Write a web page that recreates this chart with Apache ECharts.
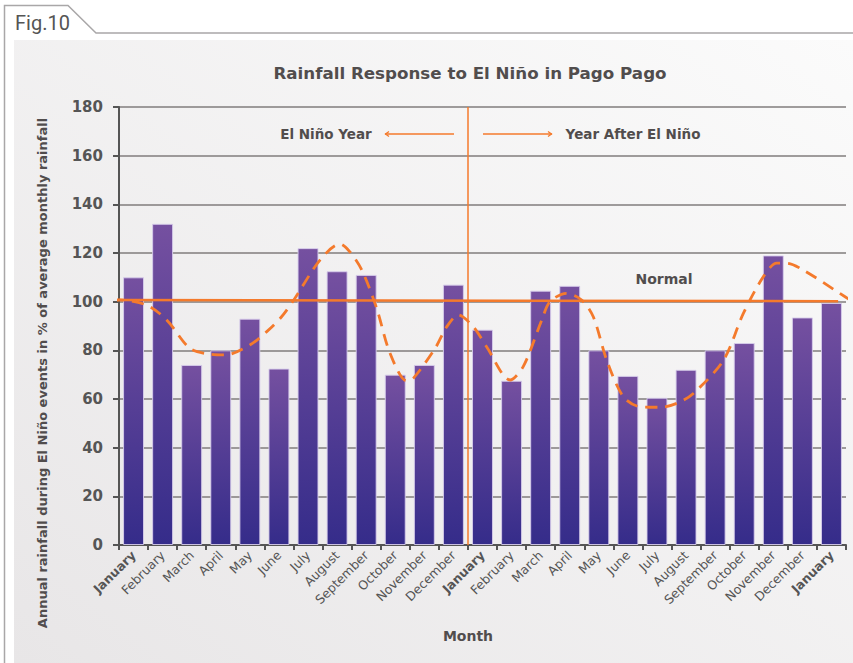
<!DOCTYPE html>
<html><head><meta charset="utf-8">
<script src="https://cdn.jsdelivr.net/npm/echarts@6/dist/echarts.min.js"></script>
<style>html,body{margin:0;padding:0;background:#fff}#c{width:853px;height:663px}</style>
</head><body><div id="c"></div>
<script>
const months = ['January','February','March','April','May','June','July','August','September','October','November','December',
  'January','February','March','April','May','June','July','August','September','October','November','December','January'];
const boldMonthIdx = [0, 12, 24];
const rainfall = [110, 132, 74, 80, 93, 72.5, 122, 112.5, 111, 70, 74, 107,
  88.5, 67.5, 104.5, 106.5, 80, 69.5, 60.5, 72, 80, 83, 119, 93.5, 99.5];
const trendX = [-0.74,-0.47,0.45,1.14,1.94,2.63,3.15,4.0,4.58,5.09,5.55,6.41,7.10,7.44,7.85,8.36,8.82,9.39,9.62,10.37,10.77,11.17,11.68,12.14,12.95,13.40,14.04,14.32,14.89,15.41,15.81,16.27,16.84,17.42,18.11,18.68,19.25,20.29,20.97,21.66,22.12,22.46,23.03,24.29,24.73];
const trendY = [100.4,100.7,98.6,92.5,80.8,78.4,78.1,82.2,87.7,93.8,101.4,117.1,123.7,120.5,113,97.3,78.8,67.5,68.5,80.8,89.7,94.5,89.7,81.5,67.8,73.3,92.5,100,103.4,100.7,93.8,76,61,56.8,56.6,58.2,62.3,76,95.2,110.3,115.8,115.8,113,103.4,100];
const normalX = [-0.74, 24.23];
const normalY = [100.7, 100.2];
const yearBoundary = 11.5;
const yMin = 0, yMax = 180, yStep = 20;

const textColor = '#514d4d';
const orange = '#f47a2c';
const font = '"DejaVu Sans", sans-serif';
const figFont = 'Roboto, "Liberation Sans", sans-serif';

const chart = echarts.init(document.getElementById('c'), null, {renderer: 'svg'});
chart.setOption({
  animation: false,
  textStyle: {fontFamily: font},
  graphic: [
    {type: 'rect', z: -100, shape: {x: 14, y: 40, width: 839, height: 623},
     style: {fill: new echarts.graphic.LinearGradient(1, 0, 0, 1, [{offset: 0, color: '#fbfbfb'}, {offset: 1, color: '#e8e6e7'}])}},
    {type: 'polyline', z: -90, shape: {points: [[4.5, 663], [4.5, 5.5], [68, 5.5], [96, 33], [853, 33]]},
     style: {stroke: '#a9a7a8', lineWidth: 1.5, fill: null}},
    {type: 'text', left: 15, top: 13, style: {text: 'Fig.10', font: '20px ' + figFont, fill: '#555'}},
    {type: 'text', x: 470, y: 73, style: {text: 'Rainfall Response to El Niño in Pago Pago', font: 'bold 16.7px ' + font, fill: textColor, align: 'center', verticalAlign: 'middle'}},
    {type: 'text', x: 326, y: 134, style: {text: 'El Niño Year', font: 'bold 13.5px ' + font, fill: textColor, align: 'center', verticalAlign: 'middle'}},
    {type: 'text', x: 633, y: 134, style: {text: 'Year After El Niño', font: 'bold 13.5px ' + font, fill: textColor, align: 'center', verticalAlign: 'middle'}},
    {type: 'text', x: 664, y: 279, style: {text: 'Normal', font: 'bold 14px ' + font, fill: textColor, align: 'center', verticalAlign: 'middle'}},
    {type: 'text', x: 468, y: 636, style: {text: 'Month', font: 'bold 14px ' + font, fill: textColor, align: 'center', verticalAlign: 'middle'}},
    {type: 'text', x: 42, y: 373, rotation: Math.PI / 2, style: {text: 'Annual rainfall during El Niño events in % of average monthly rainfall', font: 'bold 13px ' + font, fill: textColor, align: 'center', verticalAlign: 'middle'}},
    {type: 'line', shape: {x1: 385, y1: 134, x2: 454, y2: 134}, style: {stroke: orange, lineWidth: 1.3}},
    {type: 'polyline', shape: {points: [[389, 131.5], [385.5, 134], [389, 136.5]]}, style: {stroke: orange, lineWidth: 1.3, fill: null}},
    {type: 'line', shape: {x1: 483, y1: 134, x2: 552, y2: 134}, style: {stroke: orange, lineWidth: 1.3}},
    {type: 'polyline', shape: {points: [[548, 131.5], [551.5, 134], [548, 136.5]]}, style: {stroke: orange, lineWidth: 1.3, fill: null}}
  ],
  grid: {left: 119, right: 7, top: 107, bottom: 118},
  xAxis: [{
    type: 'category', data: months, boundaryGap: true,
    axisLine: {lineStyle: {color: '#555', width: 2}},
    axisTick: {show: true, interval: 0, length: 5, lineStyle: {color: '#555', width: 2}},
    axisLabel: {interval: 0, rotate: 45, margin: 8, fontSize: 12.5, color: '#555',
      formatter: (v, i) => boldMonthIdx.includes(i) ? '{b|' + v + '}' : v,
      rich: {b: {fontWeight: 'bold', fontSize: 12.5, color: '#555'}}}
  }, {
    type: 'value', min: -0.5, max: 24.5, show: false
  }],
  yAxis: {
    type: 'value', min: yMin, max: yMax, interval: yStep,
    axisLine: {show: true, onZeroAxisIndex: 0, lineStyle: {color: '#555', width: 2}},
    axisTick: {show: true, length: 6, lineStyle: {color: '#555', width: 2}},
    axisLabel: {fontSize: 15, fontWeight: 'bold', color: '#555', margin: 16},
    splitLine: {lineStyle: {color: '#807c7c', width: 1.5}}
  },
  series: [{
    type: 'bar', data: rainfall, barCategoryGap: '28%',
    itemStyle: {
      color: new echarts.graphic.LinearGradient(0, 0, 0, 1, [{offset: 0, color: '#7550a0'}, {offset: 1, color: '#352c8a'}]),
      borderColor: 'rgba(215,205,235,0.9)', borderWidth: 1
    }
  }, {
    type: 'line', xAxisIndex: 1, data: normalX.map((x, i) => [x, normalY[i]]),
    symbol: 'none', clip: false, z: 4,
    lineStyle: {color: orange, width: 2.5},
    markLine: {symbol: 'none', silent: true, label: {show: false},
      lineStyle: {color: orange, width: 1.5, type: 'solid'},
      data: [{xAxis: yearBoundary}]}
  }, {
    type: 'line', xAxisIndex: 1, data: trendX.map((x, i) => [x, trendY[i]]),
    symbol: 'none', smooth: 0.3, clip: false, z: 5,
    lineStyle: {color: orange, width: 2.8, type: [12, 8]}
  }]
});
</script></body></html>
